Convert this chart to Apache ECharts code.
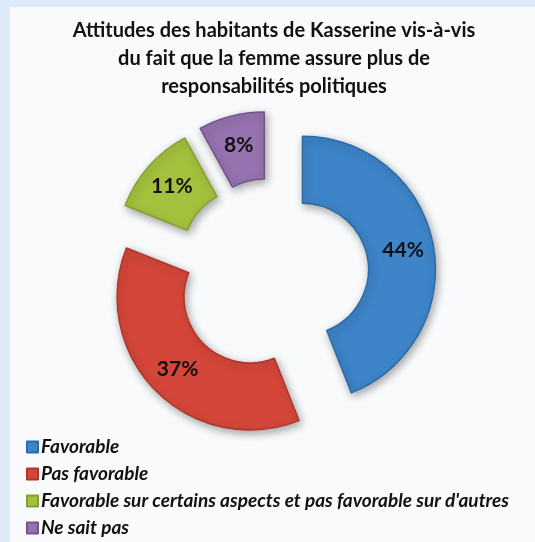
<!DOCTYPE html>
<html>
<head>
<meta charset="utf-8">
<script src="https://cdn.jsdelivr.net/npm/echarts@6/dist/echarts.min.js"></script>
<style>
  html, body { margin: 0; padding: 0; }
  #chart { width: 535px; height: 542px; }
</style>
</head>
<body>
<div id="chart"></div>
<script>
// categories and values
const categories = [
  "Favorable",
  "Pas favorable",
  "Favorable sur certains aspects et pas favorable sur d'autres",
  "Ne sait pas"
];
const values = [44, 37, 11, 8];
const colors = ["#3d84c8", "#d5463a", "#a3c13d", "#9672b0"];
const edgeColors = ["#2d6aa8", "#b0352b", "#86a02c", "#74548c"];

const mychart = echarts.init(document.getElementById("chart"));

const pieData = categories.map((name, i) => ({
  name: name,
  value: values[i],
  selected: true,
  itemStyle: {
    color: colors[i],
    borderColor: edgeColors[i]
  },
  // the narrow purple slice keeps its label a bit to the right
  label: i === 3 ? { offset: [10, 0] } : {}
}));

mychart.setOption({
  backgroundColor: "#dcebf7",
  animation: false,
  graphic: [
    {
      type: "rect",
      z: -10,
      shape: { x: 10, y: 7, width: 525, height: 535 },
      style: { fill: "#f9fafb" }
    }
  ],
  title: {
    text: "Attitudes des habitants de Kasserine vis-à-vis\ndu fait que la femme assure plus de\nresponsabilités politiques",
    left: 269,
    textAlign: "center",
    top: 12,
    textStyle: {
      fontFamily: "Lato",
      fontWeight: "bold",
      fontSize: 20,
      lineHeight: 28,
      color: "#111"
    }
  },
  legend: {
    orient: "vertical",
    left: 26,
    top: 437,
    padding: 0,
    height: 110,
    icon: "rect",
    itemWidth: 11,
    itemHeight: 11,
    itemGap: 7,
    data: categories.map((name, i) => ({
      name: name,
      itemStyle: { color: colors[i] }
    })),
    textStyle: {
      fontFamily: "Lato",
      fontStyle: "italic",
      fontWeight: "bold",
      fontSize: 19,
      lineHeight: 20,
      color: "#111",
      padding: [0, 0, 0, -2]
    }
  },
  series: [
    {
      type: "pie",
      center: [272, 275],
      radius: [66, 133],
      startAngle: 90,
      clockwise: true,
      selectedMode: "multiple",
      selectedOffset: 31,
      avoidLabelOverlap: false,
      label: {
        show: true,
        position: "inside",
        formatter: (p) => p.value + "%",
        fontFamily: "Lato",
        fontWeight: "bold",
        fontSize: 21,
        color: "#111"
      },
      labelLine: { show: false },
      itemStyle: {
        borderWidth: 1.5,
        shadowBlur: 8,
        shadowOffsetX: 2,
        shadowOffsetY: 3,
        shadowColor: "rgba(0,0,0,0.35)"
      },
      emphasis: { disabled: true },
      data: pieData
    }
  ]
});
</script>
</body>
</html>
